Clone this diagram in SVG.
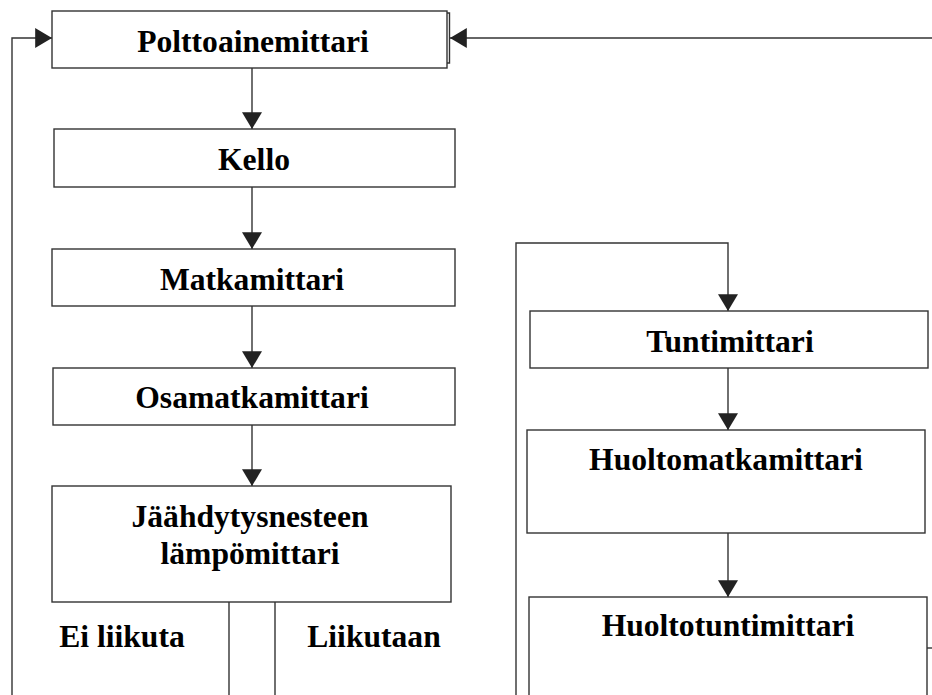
<svg xmlns="http://www.w3.org/2000/svg" width="932" height="695" viewBox="0 0 932 695">
<style>
.box{fill:#fff;stroke:#333;stroke-width:1.4}
.ln{fill:none;stroke:#333;stroke-width:1.4}
.t{font-family:"Liberation Serif","Times New Roman",serif;font-weight:bold;font-size:31.6px;fill:#000;text-anchor:middle}
</style>
<defs>
<marker id="ah" markerUnits="userSpaceOnUse" markerWidth="18" markerHeight="20" viewBox="0 0 16 19" refX="16" refY="9.5" orient="auto">
<path d="M0,0 L16,9.5 L0,19 Z" fill="#222"/>
</marker>
</defs>
<g id="connectors">
<path class="ln" d="M12,695 V38 H52" marker-end="url(#ah)"/>
<path class="ln" d="M932,38 H450" marker-end="url(#ah)"/>
<path class="ln" d="M252,68 V129" marker-end="url(#ah)"/>
<path class="ln" d="M252,187 V249" marker-end="url(#ah)"/>
<path class="ln" d="M252,306 V368" marker-end="url(#ah)"/>
<path class="ln" d="M252,425 V486" marker-end="url(#ah)"/>
<path class="ln" d="M229,602 V695"/>
<path class="ln" d="M275,602 V695"/>
<path class="ln" d="M516,695 V243 H728 V311" marker-end="url(#ah)"/>
<path class="ln" d="M728,368 V430" marker-end="url(#ah)"/>
<path class="ln" d="M728,533 V597" marker-end="url(#ah)"/>
<path class="ln" d="M927,648 H932"/>
</g>
<g id="polttoainemittari">
<rect class="box" x="52" y="11" width="395" height="57"/>
<path class="ln" d="M447,13 H449.5 V63 H447"/>
<text class="t" x="253" y="52">Polttoainemittari</text>
</g>
<g id="kello">
<rect class="box" x="54" y="129" width="401" height="58"/>
<text class="t" x="254" y="170">Kello</text>
</g>
<g id="matkamittari">
<rect class="box" x="52" y="249" width="403" height="57"/>
<text class="t" x="252" y="290">Matkamittari</text>
</g>
<g id="osamatkamittari">
<rect class="box" x="53" y="368" width="402" height="57"/>
<text class="t" x="252" y="408">Osamatkamittari</text>
</g>
<g id="jaahdytysnesteen">
<rect class="box" x="52" y="486" width="399" height="116"/>
<text class="t" x="250" y="527">Jäähdytysnesteen</text>
<text class="t" x="250" y="564">lämpömittari</text>
</g>
<g id="labels">
<text class="t" x="122" y="647">Ei liikuta</text>
<text class="t" x="374" y="647">Liikutaan</text>
</g>
<g id="tuntimittari">
<rect class="box" x="530" y="311" width="398" height="57"/>
<text class="t" x="730" y="352">Tuntimittari</text>
</g>
<g id="huoltomatkamittari">
<rect class="box" x="527" y="430" width="398" height="103"/>
<text class="t" x="726" y="470">Huoltomatkamittari</text>
</g>
<g id="huoltotuntimittari">
<rect class="box" x="529" y="597" width="398" height="110"/>
<text class="t" x="728" y="636">Huoltotuntimittari</text>
</g>
</svg>
